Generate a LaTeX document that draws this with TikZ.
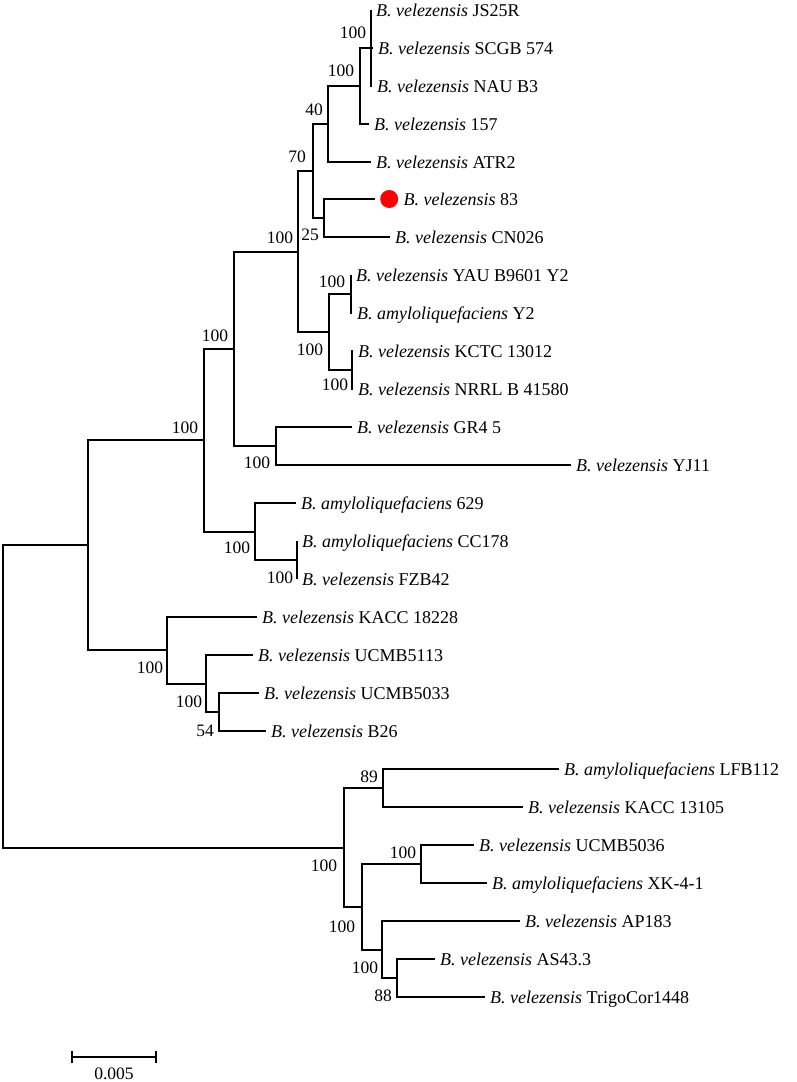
\documentclass[tikz,border=0pt]{standalone}
\usepackage{fontspec}
\setmainfont{Liberation Serif}
\usetikzlibrary{positioning}

\begin{document}
\begin{tikzpicture}[
    x=1pt, y=-1pt,
    branch/.style={line width=1.7pt},
    leaf/.style={
      anchor=west, inner xsep=5pt, inner ysep=0pt,
      text height=12pt, text depth=0pt,
      font=\fontsize{18}{18}\selectfont
    },
    boot/.style={inner sep=0pt, font=\fontsize{17.5}{17.5}\selectfont},
    dot/.style={circle, fill=red, minimum size=18pt, inner sep=0pt}
  ]
    \useasboundingbox (0,0) rectangle (797,1082);

    % Leaves: upper clade
    \node[leaf] (JS25R) at (371,10) {\textit{B. velezensis} JS25R};
    \node[leaf] (SCGB) at (373,48) {\textit{B. velezensis} SCGB 574};
    \node[leaf] (NAU) at (372,86) {\textit{B. velezensis} NAU B3};
    \node[leaf] (s157) at (369,124) {\textit{B. velezensis} 157};
    \node[leaf] (ATR2) at (371,162) {\textit{B. velezensis} ATR2};
    \coordinate (s83) at (375,199);
    \node[dot, right=5pt of s83] (mark83) {};
    \node[leaf, right=0pt of mark83] (t83) {\textit{B. velezensis} 83};
    \node[leaf] (CN026) at (390,237) {\textit{B. velezensis} CN026};
    \node[leaf] (YAU) at (351,275) {\textit{B. velezensis} YAU B9601 Y2};
    \node[leaf] (Y2) at (352,313) {\textit{B. amyloliquefaciens} Y2};
    \node[leaf] (KCTC) at (353,351) {\textit{B. velezensis} KCTC 13012};
    \node[leaf] (NRRL) at (353,389) {\textit{B. velezensis} NRRL B 41580};
    \node[leaf] (GR4) at (352,427) {\textit{B. velezensis} GR4 5};
    \node[leaf] (YJ11) at (571,465) {\textit{B. velezensis} YJ11};
    \node[leaf] (a629) at (296,503) {\textit{B. amyloliquefaciens} 629};
    \node[leaf] (CC178) at (297,541) {\textit{B. amyloliquefaciens} CC178};
    \node[leaf] (FZB42) at (297,579) {\textit{B. velezensis} FZB42};
    \node[leaf] (KACCa) at (257,617) {\textit{B. velezensis} KACC 18228};
    \node[leaf] (U5113) at (253,655) {\textit{B. velezensis} UCMB5113};
    \node[leaf] (U5033) at (259,693) {\textit{B. velezensis} UCMB5033};
    \node[leaf] (B26) at (266,731) {\textit{B. velezensis} B26};

    % Leaves: lower clade
    \node[leaf] (LFB112) at (559,769) {\textit{B. amyloliquefaciens} LFB112};
    \node[leaf] (KACCb) at (523,807) {\textit{B. velezensis} KACC 13105};
    \node[leaf] (U5036) at (474,845) {\textit{B. velezensis} UCMB5036};
    \node[leaf] (XK) at (487,883) {\textit{B. amyloliquefaciens} XK-4-1};
    \node[leaf] (AP183) at (520,921) {\textit{B. velezensis} AP183};
    \node[leaf] (AS43) at (435,959) {\textit{B. velezensis} AS43.3};
    \node[leaf] (Trigo) at (485,997) {\textit{B. velezensis} TrigoCor1448};

    % Internal nodes
    \coordinate (nA) at (371,48);
    \coordinate (nB) at (360,86);
    \coordinate (nC) at (328,124);
    \coordinate (nD) at (324,218);
    \coordinate (nE) at (313,171);
    \coordinate (nF) at (351,294);
    \coordinate (nG) at (352,370);
    \coordinate (nH) at (329,332);
    \coordinate (nI) at (298,252);
    \coordinate (nJ) at (276,446);
    \coordinate (nK) at (234,349);
    \coordinate (nL) at (297,560);
    \coordinate (nM) at (255,532);
    \coordinate (nN) at (204,440);
    \coordinate (nO) at (219,712);
    \coordinate (nP) at (206,684);
    \coordinate (nQ) at (167,650);
    \coordinate (nR) at (88,545);
    \coordinate (nS) at (383,788);
    \coordinate (nT) at (421,864);
    \coordinate (nU) at (397,978);
    \coordinate (nV) at (382,950);
    \coordinate (nW) at (362,907);
    \coordinate (nX) at (344,848);
    \coordinate (root) at (3,696);

    % Branches
    \draw[branch] (nA) |- (JS25R.west) (nA) |- (SCGB.west) (nA) |- (NAU.west);
    \draw[branch] (nB) |- (nA) (nB) |- (s157.west);
    \draw[branch] (nC) |- (nB) (nC) |- (ATR2.west);
    \draw[branch] (nD) |- (s83) (nD) |- (CN026.west);
    \draw[branch] (nE) |- (nC) (nE) |- (nD);
    \draw[branch] (nF) |- (YAU.west) (nF) |- (Y2.west);
    \draw[branch] (nG) |- (KCTC.west) (nG) |- (NRRL.west);
    \draw[branch] (nH) |- (nF) (nH) |- (nG);
    \draw[branch] (nI) |- (nE) (nI) |- (nH);
    \draw[branch] (nJ) |- (GR4.west) (nJ) |- (YJ11.west);
    \draw[branch] (nK) |- (nI) (nK) |- (nJ);
    \draw[branch] (nL) |- (CC178.west) (nL) |- (FZB42.west);
    \draw[branch] (nM) |- (a629.west) (nM) |- (nL);
    \draw[branch] (nN) |- (nK) (nN) |- (nM);
    \draw[branch] (nO) |- (U5033.west) (nO) |- (B26.west);
    \draw[branch] (nP) |- (U5113.west) (nP) |- (nO);
    \draw[branch] (nQ) |- (KACCa.west) (nQ) |- (nP);
    \draw[branch] (nR) |- (nN) (nR) |- (nQ);
    \draw[branch] (nS) |- (LFB112.west) (nS) |- (KACCb.west);
    \draw[branch] (nT) |- (U5036.west) (nT) |- (XK.west);
    \draw[branch] (nU) |- (AS43.west) (nU) |- (Trigo.west);
    \draw[branch] (nV) |- (AP183.west) (nV) |- (nU);
    \draw[branch] (nW) |- (nT) (nW) |- (nV);
    \draw[branch] (nX) |- (nS) (nX) |- (nW);
    \draw[branch] (root) |- (nR) (root) |- (nX);

    % Bootstrap values
    \node[boot] (bA) at (353,33) {100};
    \node[boot] (bB) at (341,71) {100};
    \node[boot] (bC) at (314,110) {40};
    \node[boot] (bE) at (297,157) {70};
    \node[boot] (bD) at (310,235) {25};
    \node[boot] (bI) at (280,238) {100};
    \node[boot] (bF) at (332,282) {100};
    \node[boot] (bH) at (310,350) {100};
    \node[boot] (bG) at (335,385) {100};
    \node[boot] (bK) at (215,336) {100};
    \node[boot] (bJ) at (257,463) {100};
    \node[boot] (bN) at (185,428) {100};
    \node[boot] (bM) at (237,548) {100};
    \node[boot] (bL) at (280,578) {100};
    \node[boot] (bQ) at (150,668) {100};
    \node[boot] (bP) at (189,702) {100};
    \node[boot] (bO) at (205,731) {54};
    \node[boot] (bS) at (369,777) {89};
    \node[boot] (bX) at (324,866) {100};
    \node[boot] (bT) at (403,853) {100};
    \node[boot] (bW) at (342,927) {100};
    \node[boot] (bV) at (365,968) {100};
    \node[boot] (bU) at (383,996) {88};

    % Scale bar
    \coordinate (sbL) at (72,1057);
    \coordinate (sbR) at (156,1057);
    \draw[branch] (sbL) -- (sbR);
    \draw[branch] ([yshift=-6pt]sbL) -- ([yshift=6pt]sbL);
    \draw[branch] ([yshift=-6pt]sbR) -- ([yshift=6pt]sbR);
    \node[boot] (sbText) at (114,1074) {0.005};
  \end{tikzpicture}
\end{document}
